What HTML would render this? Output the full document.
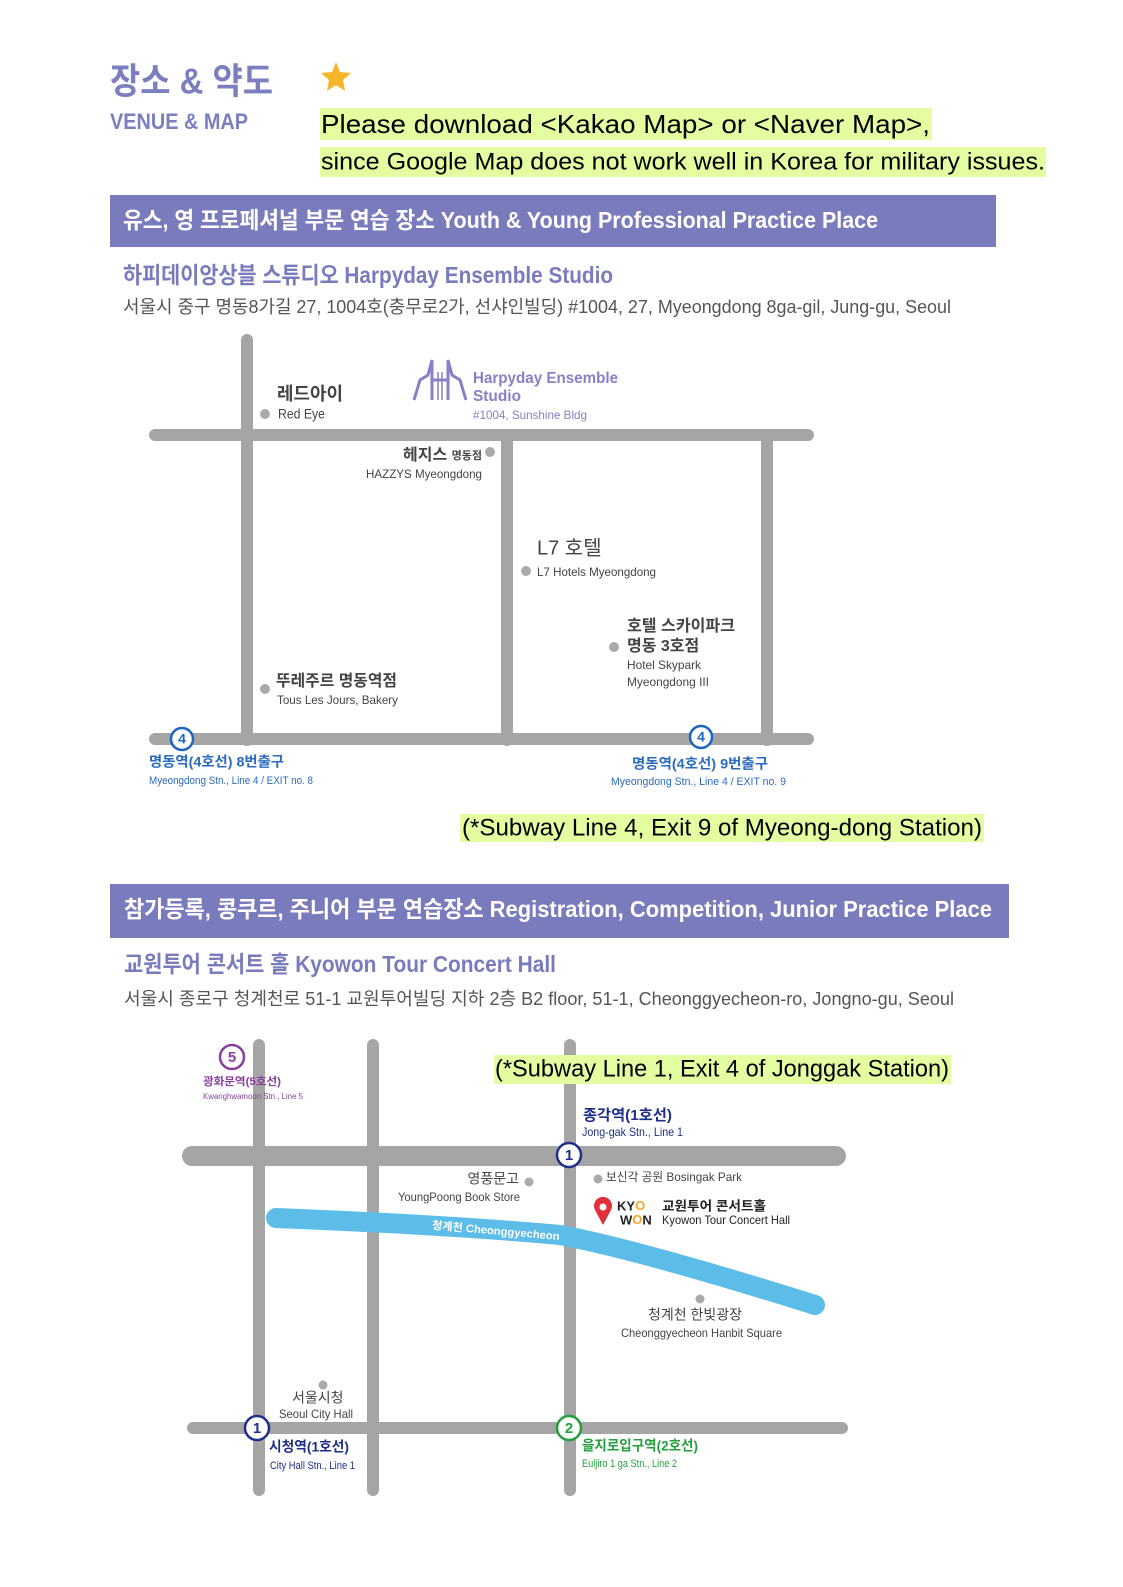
<!DOCTYPE html>
<html><head><meta charset="utf-8"><style>
html,body{margin:0;padding:0;background:#fff;width:1123px;height:1587px;overflow:hidden;}
svg{display:block;position:absolute;left:0;top:0;}
text{font-family:"Liberation Sans","Noto Sans CJK KR",sans-serif;dominant-baseline:middle;}
.n{font-family:"Liberation Sans Narrow","Liberation Sans","Noto Sans CJK KR",sans-serif;}
</style></head><body>
<svg width="1123" height="1587" viewBox="0 0 1123 1587" xmlns="http://www.w3.org/2000/svg">
<rect width="1123" height="1587" fill="#fff"/>
<!-- header -->
<text x="110" y="84" font-size="36" font-weight="bold" fill="#7b7fc0" textLength="163" lengthAdjust="spacingAndGlyphs">장소 &amp; 약도</text>
<text class="n" x="110" y="123" font-size="22" font-weight="bold" fill="#7b7fc0" textLength="138" lengthAdjust="spacingAndGlyphs">VENUE &amp; MAP</text>
<polygon points="336,62 340,72 351,73 343,80 345,91 336,85 327,91 329,80 321,73 332,72" fill="#f7b52c"/>
<rect x="320" y="108" width="612" height="32" fill="#e4fda0"/>
<rect x="320" y="147" width="726" height="30" fill="#e4fda0"/>
<text x="321" y="126" font-size="26" fill="#000" textLength="609" lengthAdjust="spacingAndGlyphs">Please download &lt;Kakao Map&gt; or &lt;Naver Map&gt;,</text>
<text x="321" y="163" font-size="24" fill="#000" textLength="724" lengthAdjust="spacingAndGlyphs">since Google Map does not work well in Korea for military issues.</text>

<!-- banner 1 -->
<rect x="110" y="195" width="886" height="52" fill="#7a7bbd"/>
<text x="123" y="222" font-size="23" font-weight="bold" fill="#fff" textLength="755" lengthAdjust="spacingAndGlyphs">유스, 영 프로페셔널 부문 연습 장소 Youth &amp; Young Professional Practice Place</text>
<text x="123" y="277" font-size="23" font-weight="bold" fill="#7a7bbd" textLength="490" lengthAdjust="spacingAndGlyphs">하피데이앙상블 스튜디오  Harpyday Ensemble Studio</text>
<text x="123" y="308" font-size="18" fill="#555" textLength="828" lengthAdjust="spacingAndGlyphs">서울시 중구 명동8가길 27, 1004호(충무로2가, 선샤인빌딩)   #1004, 27, Myeongdong 8ga-gil, Jung-gu, Seoul</text>

<!-- map 1 roads -->
<g stroke="#a5a5a5" stroke-width="12" stroke-linecap="round" fill="none">
<line x1="247" y1="340" x2="247" y2="740"/>
<line x1="155" y1="435" x2="808" y2="435"/>
<line x1="507" y1="435" x2="507" y2="740"/>
<line x1="767" y1="435" x2="767" y2="740"/>
<line x1="155" y1="739" x2="808" y2="739"/>
</g>
<g fill="#aaa">
<circle cx="265" cy="414" r="5"/><circle cx="490" cy="452" r="5"/><circle cx="526" cy="571" r="5"/><circle cx="614" cy="647" r="5"/><circle cx="265" cy="689" r="5"/>
</g>
<g class="n" fill="#444">
<text class="n" x="277" y="395" font-size="18" font-weight="bold" textLength="66" lengthAdjust="spacingAndGlyphs">레드아이</text>
<text class="n" x="278" y="415" font-size="14" textLength="47" lengthAdjust="spacingAndGlyphs">Red Eye</text>
<text class="n" x="482" y="456" font-size="16" font-weight="bold" text-anchor="end">헤지스 <tspan font-size="11">명동점</tspan></text>
<text class="n" x="366" y="475" font-size="12" textLength="116" lengthAdjust="spacingAndGlyphs">HAZZYS Myeongdong</text>
<text class="n" x="537" y="549" font-size="20">L7 호텔</text>
<text class="n" x="537" y="573" font-size="12" textLength="119" lengthAdjust="spacingAndGlyphs">L7 Hotels Myeongdong</text>
<text class="n" x="627" y="627" font-size="16" font-weight="bold" textLength="108" lengthAdjust="spacingAndGlyphs">호텔 스카이파크</text>
<text class="n" x="627" y="647" font-size="16" font-weight="bold">명동 3호점</text>
<text class="n" x="627" y="666" font-size="12" textLength="74" lengthAdjust="spacingAndGlyphs">Hotel Skypark</text>
<text class="n" x="627" y="683" font-size="12" textLength="82" lengthAdjust="spacingAndGlyphs">Myeongdong III</text>
<text class="n" x="276" y="682" font-size="16" font-weight="bold" textLength="121" lengthAdjust="spacingAndGlyphs">뚜레주르 명동역점</text>
<text class="n" x="277" y="701" font-size="12" textLength="121" lengthAdjust="spacingAndGlyphs">Tous Les Jours, Bakery</text>
</g>
<!-- logo -->
<g stroke="#8a7fc6" stroke-width="3" fill="none">
<path d="M414 400 L420 380 L428 375 L432 360 L432 400"/>
<path d="M466 400 L460 380 L452 375 L448 360 L448 400"/>
<line x1="432" y1="380" x2="448" y2="380"/>
<line x1="438" y1="372" x2="438" y2="400" stroke-width="1.5"/><line x1="442" y1="372" x2="442" y2="400" stroke-width="1.5"/>
</g>
<text class="n" x="473" y="379" font-size="16" font-weight="bold" fill="#8a7fc6" textLength="145" lengthAdjust="spacingAndGlyphs">Harpyday Ensemble</text>
<text class="n" x="473" y="397" font-size="16" font-weight="bold" fill="#8a7fc6" textLength="48" lengthAdjust="spacingAndGlyphs">Studio</text>
<text class="n" x="473" y="416" font-size="12" fill="#8a7fc6" textLength="114" lengthAdjust="spacingAndGlyphs">#1004, Sunshine Bldg</text>
<g fill="#fff" stroke="#1a66c0" stroke-width="2.5">
<circle cx="182" cy="739" r="11"/><circle cx="701" cy="737" r="11"/>
</g>
<text x="182" y="740" font-size="14" font-weight="bold" fill="#1a66c0" text-anchor="middle">4</text>
<text x="701" y="738" font-size="14" font-weight="bold" fill="#1a66c0" text-anchor="middle">4</text>
<text class="n" x="149" y="763" font-size="14" font-weight="bold" fill="#2a6bbf" textLength="135" lengthAdjust="spacingAndGlyphs">명동역(4호선) 8번출구</text>
<text class="n" x="149" y="781" font-size="11" fill="#2a6bbf" textLength="164" lengthAdjust="spacingAndGlyphs">Myeongdong Stn., Line 4 / EXIT no. 8</text>
<text class="n" x="632" y="765" font-size="14" font-weight="bold" fill="#2a6bbf" textLength="136" lengthAdjust="spacingAndGlyphs">명동역(4호선) 9번출구</text>
<text class="n" x="611" y="782" font-size="11" fill="#2a6bbf" textLength="175" lengthAdjust="spacingAndGlyphs">Myeongdong Stn., Line 4 / EXIT no. 9</text>
<rect x="460" y="814" width="524" height="28" fill="#e4fda0"/>
<text x="462" y="829" font-size="24" fill="#000" textLength="520" lengthAdjust="spacingAndGlyphs">(*Subway Line 4, Exit 9 of Myeong-dong Station)</text>

<!-- banner 2 -->
<rect x="110" y="884" width="899" height="54" fill="#7a7bbd"/>
<text x="124" y="911" font-size="23" font-weight="bold" fill="#fff" textLength="868" lengthAdjust="spacingAndGlyphs">참가등록, 콩쿠르, 주니어 부문 연습장소  Registration, Competition, Junior Practice Place</text>
<text x="124" y="966" font-size="23" font-weight="bold" fill="#7a7bbd" textLength="432" lengthAdjust="spacingAndGlyphs">교원투어 콘서트 홀  Kyowon Tour Concert Hall</text>
<text x="124" y="1000" font-size="18" fill="#555" textLength="830" lengthAdjust="spacingAndGlyphs">서울시 종로구 청계천로 51-1 교원투어빌딩 지하 2층  B2 floor, 51-1, Cheonggyecheon-ro, Jongno-gu, Seoul</text>

<!-- map 2 roads -->
<g stroke="#a5a5a5" stroke-linecap="round" fill="none">
<line x1="259" y1="1045" x2="259" y2="1490" stroke-width="12"/>
<line x1="373" y1="1045" x2="373" y2="1490" stroke-width="12"/>
<line x1="570" y1="1045" x2="570" y2="1490" stroke-width="12"/>
<line x1="192" y1="1156" x2="836" y2="1156" stroke-width="20"/>
<line x1="193" y1="1428" x2="842" y2="1428" stroke-width="12"/>
</g>
<path d="M276 1218 Q450 1225 560 1235 Q640 1250 815 1305" stroke="#5bbde8" stroke-width="20" stroke-linecap="round" fill="none"/>
<text class="n" x="432" y="1226" font-size="11" font-weight="bold" fill="#fff" transform="rotate(5 432 1226)" textLength="128" lengthAdjust="spacingAndGlyphs">청계천 Cheonggyecheon</text>
<g fill="#aaa">
<circle cx="529" cy="1182" r="4.5"/><circle cx="598" cy="1179" r="4.5"/><circle cx="700" cy="1299" r="4.5"/><circle cx="323" cy="1385" r="4.5"/>
</g>
<circle cx="232" cy="1057" r="12" fill="#fff" stroke="#8a3ea0" stroke-width="2.5"/>
<text x="232" y="1058" font-size="15" font-weight="bold" fill="#8a3ea0" text-anchor="middle">5</text>
<text class="n" x="203" y="1082" font-size="11" font-weight="bold" fill="#8a3ea0" textLength="78" lengthAdjust="spacingAndGlyphs">광화문역(5호선)</text>
<text class="n" x="203" y="1097" font-size="8" fill="#8a3ea0" textLength="100" lengthAdjust="spacingAndGlyphs">Kwanghwamoon Stn., Line 5</text>
<rect x="494" y="1055" width="457" height="29" fill="#e4fda0"/>
<text x="495" y="1070" font-size="24" fill="#000" textLength="454" lengthAdjust="spacingAndGlyphs">(*Subway Line 1, Exit 4 of Jonggak Station)</text>
<text class="n" x="583" y="1116" font-size="15" font-weight="bold" fill="#1e2f8a" textLength="89" lengthAdjust="spacingAndGlyphs">종각역(1호선)</text>
<text class="n" x="582" y="1133" font-size="12" fill="#1e2f8a" textLength="101" lengthAdjust="spacingAndGlyphs">Jong-gak Stn., Line 1</text>
<g fill="#444">
<text class="n" x="519" y="1180" font-size="14" text-anchor="end">영풍문고</text>
<text class="n" x="398" y="1198" font-size="12" textLength="122" lengthAdjust="spacingAndGlyphs">YoungPoong Book Store</text>
<text class="n" x="606" y="1178" font-size="12" textLength="136" lengthAdjust="spacingAndGlyphs">보신각 공원 Bosingak Park</text>
<text class="n" x="648" y="1316" font-size="14">청계천 한빛광장</text>
<text class="n" x="621" y="1334" font-size="12" textLength="161" lengthAdjust="spacingAndGlyphs">Cheonggyecheon Hanbit Square</text>
<text class="n" x="292" y="1399" font-size="14">서울시청</text>
<text class="n" x="279" y="1415" font-size="12" textLength="74" lengthAdjust="spacingAndGlyphs">Seoul City Hall</text>
</g>
<path d="M603 1225 L595 1210 A9 9 0 1 1 611 1210 Z" fill="#e0303a"/>
<circle cx="603" cy="1207" r="3.5" fill="#fff"/>
<text class="n" x="617" y="1207" font-size="13" font-weight="bold" fill="#222">KY<tspan fill="#f5a623">O</tspan></text>
<text class="n" x="620" y="1221" font-size="13" font-weight="bold" fill="#222">W<tspan fill="#f5a623">O</tspan>N</text>
<text class="n" x="662" y="1207" font-size="13" font-weight="bold" fill="#222" textLength="104" lengthAdjust="spacingAndGlyphs">교원투어 콘서트홀</text>
<text class="n" x="662" y="1221" font-size="12" fill="#222" textLength="128" lengthAdjust="spacingAndGlyphs">Kyowon Tour Concert Hall</text>
<g fill="#fff" stroke-width="2.5">
<circle cx="569" cy="1155" r="12" stroke="#1e2f8a"/>
<circle cx="257" cy="1428" r="12" stroke="#1e2f8a"/>
<circle cx="569" cy="1428" r="12" stroke="#22a03a"/>
</g>
<text x="569" y="1156" font-size="15" font-weight="bold" fill="#1e2f8a" text-anchor="middle">1</text>
<text x="257" y="1429" font-size="15" font-weight="bold" fill="#1e2f8a" text-anchor="middle">1</text>
<text x="569" y="1429" font-size="15" font-weight="bold" fill="#22a03a" text-anchor="middle">2</text>
<text class="n" x="269" y="1448" font-size="14" font-weight="bold" fill="#1e2f8a" textLength="80" lengthAdjust="spacingAndGlyphs">시청역(1호선)</text>
<text class="n" x="270" y="1466" font-size="11" fill="#1e2f8a" textLength="85" lengthAdjust="spacingAndGlyphs">City Hall Stn., Line 1</text>
<text class="n" x="582" y="1447" font-size="14" font-weight="bold" fill="#22a03a" textLength="116" lengthAdjust="spacingAndGlyphs">을지로입구역(2호선)</text>
<text class="n" x="582" y="1464" font-size="11" fill="#22a03a" textLength="95" lengthAdjust="spacingAndGlyphs">Euljiro 1 ga Stn., Line 2</text>
</svg>
</body></html>
